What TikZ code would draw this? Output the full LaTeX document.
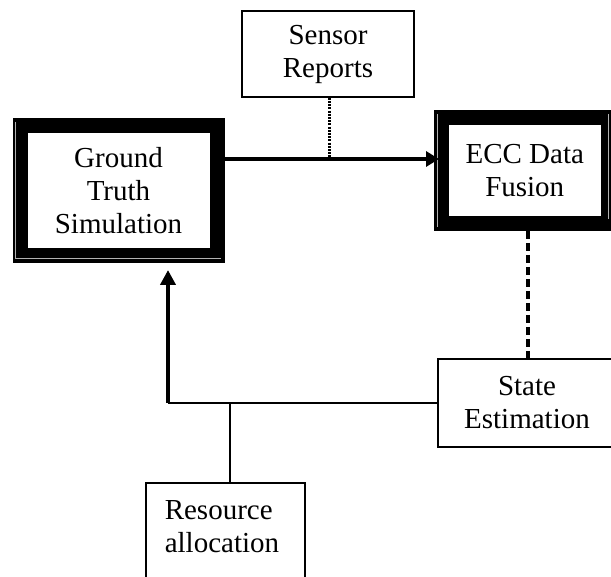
\documentclass[tikz,border=0pt]{standalone}
\usepackage{fontspec}
\setmainfont{Liberation Serif}
\usetikzlibrary{arrows.meta,calc}
\begin{document}
\begin{tikzpicture}[x=1pt,y=-1pt,
  every node/.style={font=\fontsize{29}{33}\selectfont, align=center},
  plainbox/.style={draw, line width=1.5pt, fill=white, inner sep=0pt},
  framebox/.style={draw, line width=15pt, fill=white, inner sep=0pt},
  frameline/.style={draw=white!70!black, line width=0.8pt},
  thinline/.style={line width=1.5pt},
  thickline/.style={line width=3.3pt},
  dotline/.style={line width=3pt, dash pattern=on 2pt off 1.2pt},
  dashline/.style={line width=4pt, dash pattern=on 8pt off 4pt},
]
\useasboundingbox (0,0) rectangle (611,577);
\clip (0,0) rectangle (611,577);

% boxes
\node[plainbox, minimum width=172pt, minimum height=86pt] (sensor) at (328,54) {Sensor\\Reports};
\node[framebox, minimum width=197pt, minimum height=129.5pt] (gt) at (118.5,190.75) {Ground\\Truth\\Simulation};
\node[framebox, minimum width=166.5pt, minimum height=105.5pt] (ecc) at (524.75,170.75) {ECC Data\\Fusion};
\node[plainbox, line width=2pt, minimum width=178pt, minimum height=88pt] (state) at (527,403) {State\\Estimation};
\node[plainbox, anchor=north west, align=left, inner xsep=19pt, inner ysep=18pt, text width=121pt] (res) at (145,482) {Resource\\allocation\\ \strut};

% thin inner lines of the double frames
\draw[frameline] (15.5,122) -- (15.5,258.5) -- (221,258.5);
\draw[frameline] (437.5,114) -- (437.5,227);
\draw[frameline] (608,114) -- (608,219);

% junction coordinates
\coordinate (j) at (329,159);
\coordinate (c) at (168,403);
\coordinate (k) at (230,403);
\coordinate (d) at (528,0);

% connectors
\draw[dotline] (sensor.south -| j) -- (j);
\draw[thickline, -{Triangle[length=13pt,width=15pt]}, shorten >=-5pt] (j -| gt.east) -- (j -| ecc.west);
\draw[dashline] (ecc.south -| d) -- (state.north -| d);
\draw[thinline] (state.west |- c) -- (c);
\draw[line width=4pt, -{Triangle[length=15pt,width=15pt]}, shorten >=7pt] (c) -- (c |- gt.south);
\draw[thinline] (k |- res.north) -- (k);
\end{tikzpicture}
\end{document}
